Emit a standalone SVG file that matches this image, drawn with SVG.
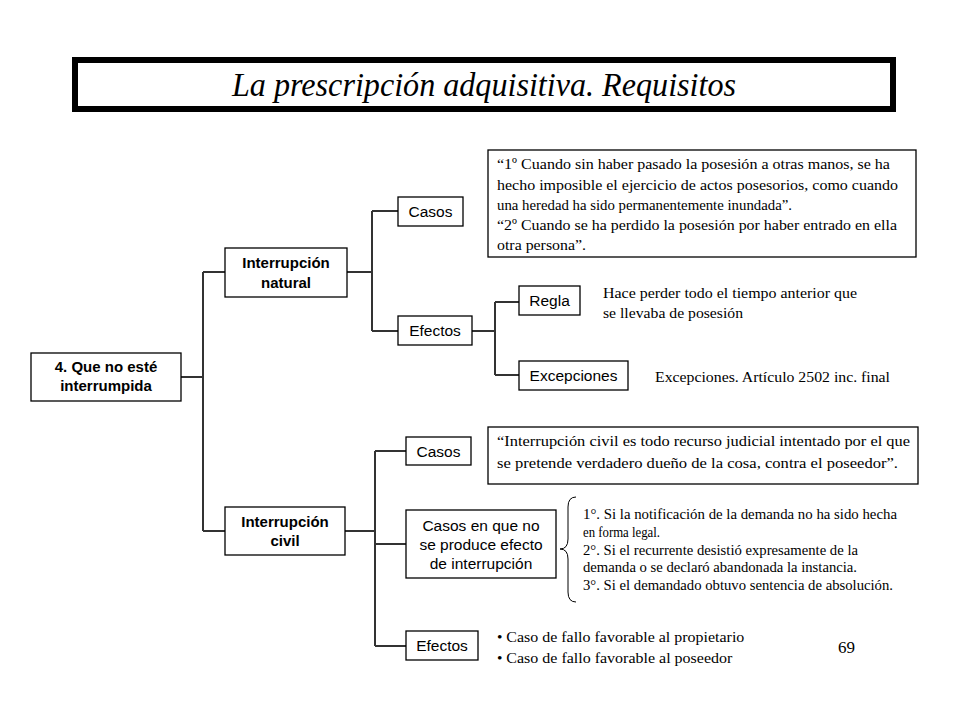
<svg xmlns="http://www.w3.org/2000/svg" width="960" height="720" viewBox="0 0 960 720">
<style>
.box{fill:#fff;stroke:#000;stroke-width:1.3}
.sans{font-family:"Liberation Sans",Arial,sans-serif;font-size:15.5px;fill:#000;text-anchor:middle}
.bold{font-family:"Liberation Sans",Arial,sans-serif;font-size:15px;font-weight:bold;fill:#000;text-anchor:middle}
.serif{font-family:"Liberation Serif","Times New Roman",serif;font-size:15.5px;fill:#000}
.list{font-family:"Liberation Serif","Times New Roman",serif;font-size:14.5px;fill:#000}
.conn{fill:none;stroke:#333;stroke-width:2}
</style>
<rect x="0" y="0" width="960" height="720" fill="#fff"/>
<g id="title">
<rect x="75" y="60" width="818" height="49" fill="#fff" stroke="#000" stroke-width="6"/>
<text x="484" y="96" font-family="'Liberation Serif','Times New Roman',serif" font-style="italic" font-size="33" text-anchor="middle" textLength="504" lengthAdjust="spacingAndGlyphs">La prescripción adquisitiva. Requisitos</text>
</g>
<g id="connectors">
<path class="conn" d="M181,377H203M203,272V531M203,272H225M203,531H225"/>
<path class="conn" d="M347,272H372M372,211V331M372,211H398M372,331H398"/>
<path class="conn" d="M472,331H495M495,302V375M495,302H519M495,375H519"/>
<path class="conn" d="M345,531H375M375,451V646M375,451H406M375,544H406M375,646H406"/>
</g>
<g id="n-root">
<rect class="box" x="31" y="353" width="150" height="48"/>
<text class="bold" x="106" y="372">4. Que no esté</text>
<text class="bold" x="106" y="391">interrumpida</text>
</g>
<g id="n-natural">
<rect class="box" x="225" y="248" width="122" height="49"/>
<text class="bold" x="286" y="268">Interrupción</text>
<text class="bold" x="286" y="288">natural</text>
</g>
<g id="n-nat-casos">
<rect class="box" x="398" y="197" width="65" height="29"/>
<text class="sans" x="430.5" y="217">Casos</text>
</g>
<g id="n-nat-efectos">
<rect class="box" x="398" y="316" width="74" height="29"/>
<text class="sans" x="435" y="336">Efectos</text>
</g>
<g id="n-regla">
<rect class="box" x="519" y="286" width="61" height="29"/>
<text class="sans" x="549.5" y="306">Regla</text>
</g>
<g id="n-excepciones">
<rect class="box" x="519" y="361" width="109" height="29"/>
<text class="sans" x="573.5" y="381">Excepciones</text>
</g>
<g id="n-nat-casos-text">
<rect class="box" x="488" y="150" width="428" height="107"/>
<text class="serif" x="497" y="169" textLength="393" lengthAdjust="spacingAndGlyphs">“1º Cuando sin haber pasado la posesión a otras manos, se ha</text>
<text class="serif" x="497" y="190" textLength="401" lengthAdjust="spacingAndGlyphs">hecho imposible  el ejercicio  de actos posesorios, como cuando</text>
<text class="serif" x="497" y="210" textLength="295" lengthAdjust="spacingAndGlyphs">una heredad ha sido permanentemente inundada”.</text>
<text class="serif" x="497" y="230" textLength="400" lengthAdjust="spacingAndGlyphs">“2º Cuando se ha perdido la posesión por haber entrado en ella</text>
<text class="serif" x="497" y="250" textLength="89" lengthAdjust="spacingAndGlyphs">otra persona”.</text>
</g>
<g id="n-regla-text">
<text class="serif" x="603" y="298" textLength="254" lengthAdjust="spacingAndGlyphs">Hace perder todo el tiempo anterior que</text>
<text class="serif" x="603" y="318" textLength="140" lengthAdjust="spacingAndGlyphs">se llevaba  de posesión</text>
</g>
<g id="n-excepciones-text">
<text class="serif" x="655" y="382" textLength="235" lengthAdjust="spacingAndGlyphs">Excepciones. Artículo 2502 inc. final</text>
</g>
<g id="n-civil">
<rect class="box" x="225" y="507" width="120" height="48"/>
<text class="bold" x="285" y="527">Interrupción</text>
<text class="bold" x="285" y="546">civil</text>
</g>
<g id="n-civ-casos">
<rect class="box" x="406" y="437" width="65" height="28"/>
<text class="sans" x="438.5" y="457">Casos</text>
</g>
<g id="n-civ-casos-text">
<rect class="box" x="488" y="427" width="430" height="57"/>
<text class="serif" x="497" y="446" textLength="413" lengthAdjust="spacingAndGlyphs">“Interrupción civil  es todo recurso judicial intentado por el que</text>
<text class="serif" x="497" y="468" textLength="401" lengthAdjust="spacingAndGlyphs">se pretende verdadero dueño de la cosa, contra el poseedor”.</text>
</g>
<g id="n-no-efecto">
<rect class="box" x="406" y="510" width="150" height="68"/>
<text class="sans" x="481" y="531" font-size="16">Casos en que  no</text>
<text class="sans" x="481" y="550" font-size="16">se produce efecto</text>
<text class="sans" x="481" y="569" font-size="16">de interrupción</text>
</g>
<g id="n-no-efecto-list">
<path d="M576,497Q568,497 568,507V539Q568,549 560,549Q568,549 568,559V592Q568,602 576,602" fill="none" stroke="#000" stroke-width="1"/>
<text class="list" x="583" y="519" textLength="314" lengthAdjust="spacingAndGlyphs">1°. Si la notificación de la demanda no ha sido hecha</text>
<text class="list" x="583" y="537" textLength="77" lengthAdjust="spacingAndGlyphs">en forma legal.</text>
<text class="list" x="583" y="555" textLength="275" lengthAdjust="spacingAndGlyphs">2°. Si el recurrente desistió expresamente de la</text>
<text class="list" x="583" y="572" textLength="274" lengthAdjust="spacingAndGlyphs">demanda o se declaró abandonada la instancia.</text>
<text class="list" x="583" y="590" textLength="310" lengthAdjust="spacingAndGlyphs">3°. Si el demandado obtuvo sentencia de absolución.</text>
</g>
<g id="n-civ-efectos">
<rect class="box" x="406" y="631" width="72" height="29"/>
<text class="sans" x="442" y="651">Efectos</text>
</g>
<g id="n-civ-efectos-text">
<text class="serif" x="497" y="642" font-size="14.5">• <tspan textLength="238" lengthAdjust="spacingAndGlyphs">Caso de fallo favorable al propietario</tspan></text>
<text class="serif" x="497" y="663" font-size="14.5">• <tspan textLength="226" lengthAdjust="spacingAndGlyphs">Caso de fallo favorable al poseedor</tspan></text>
</g>
<g id="page-number">
<text x="838" y="653" font-family="'Liberation Serif','Times New Roman',serif" font-size="17">69</text>
</g>
</svg>
